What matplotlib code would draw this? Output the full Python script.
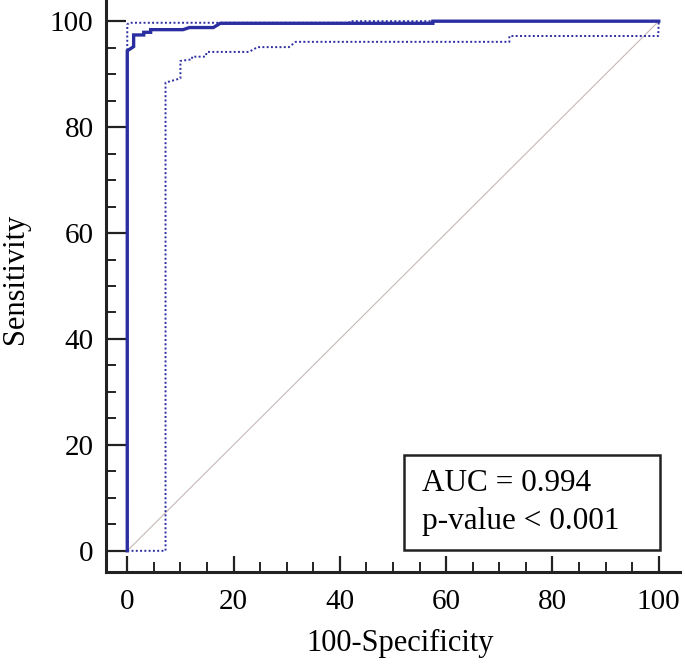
import matplotlib
matplotlib.use("Agg")
import matplotlib.pyplot as plt
from matplotlib.patches import Rectangle

# ROC curve (100-Specificity, Sensitivity)
roc_fpr = [0, 0, 1.2, 1.2, 3.1, 3.1, 4.4, 4.4, 10.5, 11.7, 16.2, 17.5, 57.5, 57.5, 100]
roc_tpr = [0, 94.4, 95.2, 97.4, 97.4, 97.9, 97.9, 98.4, 98.4, 98.8, 98.8, 99.6, 99.6, 100, 100]

# Upper 95% CI
upper_fpr = [0, 0, 0.4, 41.8, 41.8, 100]
upper_tpr = [0, 99.4, 99.7, 99.7, 100, 100]

# Lower 95% CI
lower_fpr = [0, 7.2, 7.2, 10.0, 10.0, 12.2, 12.2, 14.7, 15.0, 22.9, 24.5, 30.4, 31.7, 71.9, 71.9, 99.9, 100]
lower_tpr = [0, 0, 88.4, 89.2, 92.5, 92.8, 93.3, 93.3, 94.2, 94.2, 95.1, 95.1, 96.1, 96.1, 97.2, 97.2, 100]

ref_x = [0, 100]
ref_y = [0, 100]

major_ticks = [0, 20, 40, 60, 80, 100]
minor_ticks = [5, 10, 15, 25, 30, 35, 45, 50, 55, 65, 70, 75, 85, 90, 95]

auc_text = "AUC = 0.994"
p_text = "p-value < 0.001"

plt.rcParams['font.family'] = ['Liberation Serif', 'DejaVu Serif']
W, H = 685, 665
fig = plt.figure(figsize=(W / 100, H / 100), dpi=100)
ax = fig.add_axes([106 / W, 93 / H, (680 - 106) / W, (665 - 93) / H])

blue = '#2b2ea0'
ax.plot(ref_x, ref_y, color='#c8b8b8', lw=0.8, zorder=1)
ax.plot(lower_fpr, lower_tpr, color=blue, lw=1.4, ls=(0, (1, 1.2)), zorder=2)
ax.plot(upper_fpr, upper_tpr, color=blue, lw=1.4, ls=(0, (1, 1.2)), zorder=2)
ax.plot(roc_fpr, roc_tpr, color=blue, lw=2.4, zorder=3, solid_joinstyle='miter')

ax.set_xlim(-4, 104)
ax.set_ylim(-4, 104)
for s in ['top', 'right']:
    ax.spines[s].set_visible(False)
for s in ['left', 'bottom']:
    ax.spines[s].set_linewidth(2.2)
    ax.spines[s].set_color('#222222')

ax.set_xticks(major_ticks)
ax.set_yticks(major_ticks)
ax.set_xticks(minor_ticks, minor=True)
ax.set_yticks(minor_ticks, minor=True)

ax.tick_params(axis='x', which='major', direction='in', length=11.5, width=1.6, pad=12, labelsize=21, color='#222222')
ax.tick_params(axis='y', which='major', direction='in', length=14.5, width=1.6, pad=9, labelsize=21, color='#222222')
ax.tick_params(which='minor', direction='in', length=7, width=1.4, color='#222222')

ax.set_xlabel('100-Specificity', fontsize=22)
ax.set_ylabel('Sensitivity', fontsize=22)
ax.xaxis.set_label_coords(0.513, -0.1)
ax.yaxis.set_label_coords(-0.132, 0.512)

ax.add_patch(Rectangle((52.0, 0.2), 48.2, 17.8, fill=False, edgecolor='#222222', lw=1.8, zorder=4))
ax.text(55.5, 11.3, auc_text, fontsize=22.5, va='baseline', ha='left')
ax.text(55.5, 4.2, p_text, fontsize=22.5, va='baseline', ha='left')

fig.savefig('out.png', dpi=100)
